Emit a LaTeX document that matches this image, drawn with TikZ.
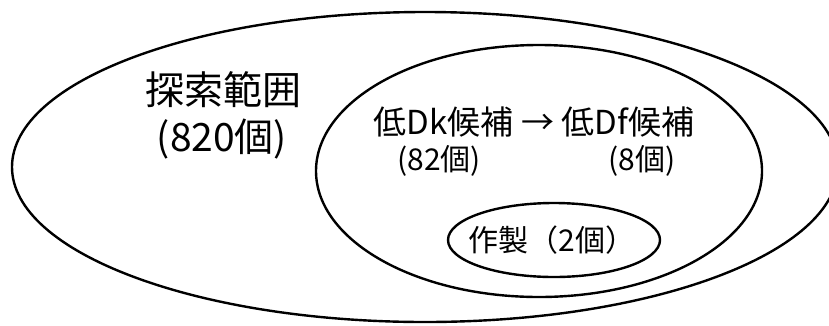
\documentclass[tikz,border=0pt]{standalone}
\usepackage{fontspec}
\setmainfont{Noto Sans CJK JP}
\usetikzlibrary{shapes.geometric}
\begin{document}
\begin{tikzpicture}[x=1pt,y=-1pt,
  ell/.style={draw=black, line width=2.4pt, ellipse, inner sep=0pt},
  big/.style={font=\fontsize{39}{41}\selectfont, inner sep=0pt},
  mid/.style={font=\fontsize{33}{35}\selectfont, inner sep=0pt},
  small/.style={font=\fontsize{30}{32}\selectfont, inner sep=0pt}]
\useasboundingbox (0,0) rectangle (829,325);
\fill[white] (0,0) rectangle (829,325);
\clip (0,0) rectangle (829,325);
\node[ell, minimum width=826pt, minimum height=310pt] (outer) at (425,167) {};
\node[ell, minimum width=446pt, minimum height=252pt] (inner) at (539,171) {};
\node[ell, minimum width=212pt, minimum height=74pt] (made) at (554,240) {};
\node[big] (t1) at (223,90) {探索範囲};
\node[big] (t2) at (222,139) {(820個)};
\node[mid] (t3) at (534,122) {低Dk候補 → 低Df候補};
\node[small] (t4) at (439,161) {(82個)};
\node[small] (t5) at (642,161) {(8個)};
\node[small] (t6) at (552,240) {作製（2個）};
\end{tikzpicture}
\end{document}
